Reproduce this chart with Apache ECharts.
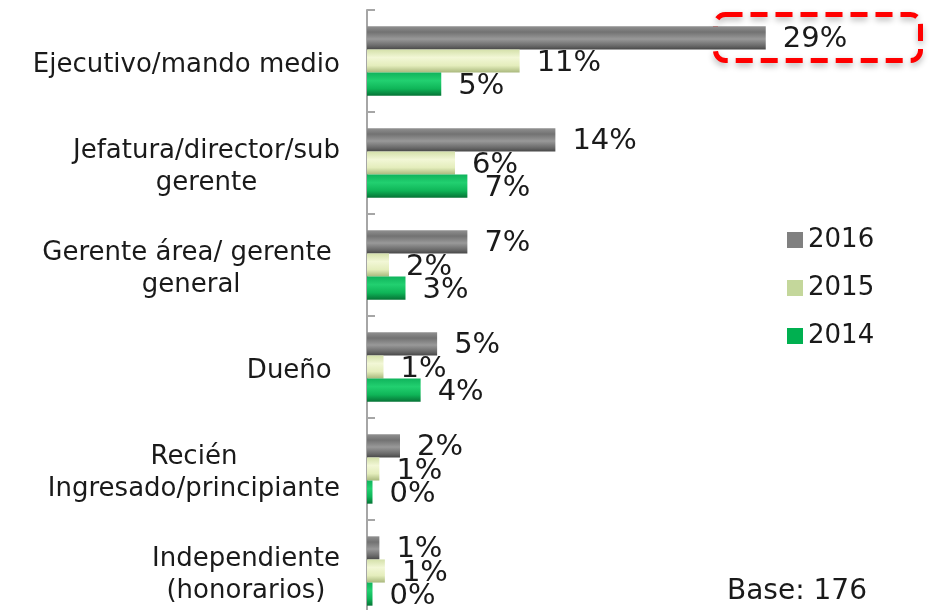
<!DOCTYPE html>
<html>
<head>
<meta charset="utf-8">
<script src="https://cdn.jsdelivr.net/npm/echarts@6/dist/echarts.min.js"></script>
<style>html,body{margin:0;padding:0;background:#fff}#c{width:930px;height:610px}</style>
</head>
<body>
<div id="c"></div>
<script>
const categories = [
  "Ejecutivo/mando medio",
  "Jefatura/director/sub\ngerente",
  "Gerente área/ gerente \ngeneral",
  "Dueño ",
  "Recién\nIngresado/principiante",
  "Independiente\n(honorarios)"
];
const seriesNames = ["2016", "2015", "2014"];
const values2016 = [29, 13.7, 7.3, 5.1, 2.4, 0.9];
const values2015 = [11.1, 6.4, 1.6, 1.2, 0.9, 1.3];
const values2014 = [5.4, 7.3, 2.8, 3.9, 0.4, 0.4];
const baseText = "Base: 176";

const FONT = "DejaVu Sans";
function grad(stops) {
  return new echarts.graphic.LinearGradient(0, 0, 0, 1, stops.map(c => ({offset: c[0], color: c[1]})));
}
const barStyles = [
  grad([[0, '#909090'], [0.25, '#727272'], [0.55, '#999999'], [0.85, '#686868'], [1, '#484848']]),
  grad([[0, '#d4e0aa'], [0.35, '#f2f7d6'], [0.7, '#e4edbc'], [1, '#a9b87c']]),
  grad([[0, '#10b45c'], [0.35, '#22d070'], [0.7, '#0fb558'], [1, '#067436']])
];
const legendColors = ['#808080', '#c4d79b', '#00b050'];
const dataSets = [values2016, values2015, values2014];

const chart = echarts.init(document.getElementById('c'));
chart.setOption({
  animation: false,
  textStyle: {fontFamily: FONT},
  grid: {left: 367, width: 550, top: 10, height: 612, containLabel: false, outerBoundsMode: 'none'},
  legend: {
    orient: 'vertical', left: 782, top: 222,
    itemWidth: 16, itemHeight: 16, itemGap: 22,
    icon: 'rect',
    textStyle: {fontSize: 26, color: '#1a1a1a', fontFamily: FONT},
    data: seriesNames.map((n, i) => ({name: n, itemStyle: {color: legendColors[i]}}))
  },
  xAxis: {type: 'value', min: 0, max: 40, show: false},
  yAxis: {
    type: 'category', inverse: true, data: categories,
    axisLine: {show: true, lineStyle: {color: '#a6a6a6', width: 2}},
    axisTick: {show: true, inside: true, length: 8, lineStyle: {color: '#a6a6a6', width: 2}},
    axisLabel: {
      margin: 27, color: '#1a1a1a', fontSize: 26, lineHeight: 32, fontFamily: FONT,
      padding: [8, 0, 0, 0],
      formatter: v => v.split('\n').map(l => '{c|' + l + '}').join('\n'),
      rich: {c: {align: 'center', fontSize: 26, lineHeight: 32, fontFamily: FONT, color: '#1a1a1a'}}
    }
  },
  series: seriesNames.map((n, i) => ({
    name: n, type: 'bar', data: dataSets[i],
    barGap: '0%', barCategoryGap: '32%',
    itemStyle: {color: barStyles[i]},
    label: {
      show: true, position: 'right', distance: 17, offset: [0, 2],
      fontSize: 29, color: '#1a1a1a', fontFamily: FONT,
      formatter: p => Math.round(p.value) + '%'
    }
  })),
  graphic: [
    {type: 'rect', left: 713, top: 12,
     shape: {width: 205, height: 46, r: 10},
     style: {fill: 'none', stroke: '#ff0000', lineWidth: 5, lineDash: [17, 8],
             shadowBlur: 6, shadowColor: 'rgba(0,0,0,0.3)', shadowOffsetY: 3}},
    {type: 'text', left: 727, top: 578,
     style: {text: baseText, fontSize: 28, fill: '#1a1a1a', fontFamily: FONT}}
  ]
});
</script>
</body>
</html>
